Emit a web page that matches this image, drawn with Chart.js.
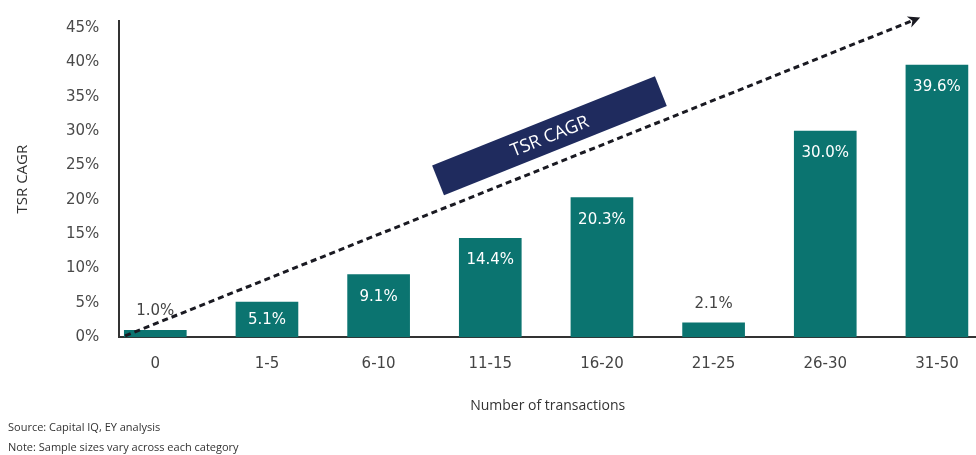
<!DOCTYPE html>
<html>
<head>
<meta charset="utf-8">
<script src="https://cdn.jsdelivr.net/npm/chart.js@4"></script>
<style>
  html, body { margin: 0; padding: 0; background: #fff; }
  #wrap { position: relative; width: 976px; height: 455px; }
  .note { position: absolute; left: 8px; font: 11px "Open Sans", sans-serif; color: #333; }
</style>
</head>
<body>
<div id="wrap">
  <canvas id="tsrChart" width="976" height="455"></canvas>
  <div class="note" style="top:419px;">Source: Capital IQ, EY analysis</div>
  <div class="note" style="top:439px;">Note: Sample sizes vary across each category</div>
</div>
<script>
const categories = ['0', '1-5', '6-10', '11-15', '16-20', '21-25', '26-30', '31-50'];
const tsrCagr = [0.010, 0.051, 0.091, 0.144, 0.203, 0.021, 0.300, 0.396];
const yTicks = [0, 0.05, 0.10, 0.15, 0.20, 0.25, 0.30, 0.35, 0.40, 0.45];

// trend arrow, in axis values (x = category index, y = CAGR)
const arrowFrom = { x: -0.27, y: 0.002 };
const arrowTo = { x: 6.85, y: 0.465 };
const bannerAt = { x: 3.53, y: 0.293 };

const TEAL = '#0b7470';
const NAVY = '#1f2b5e';

const barLabels = {
  id: 'barLabels',
  afterDatasetsDraw(chart) {
    const ctx = chart.ctx;
    const meta = chart.getDatasetMeta(0);
    ctx.save();
    ctx.font = '15px "DejaVu Sans", sans-serif';
    ctx.textAlign = 'center';
    ctx.textBaseline = 'middle';
    meta.data.forEach((bar, i) => {
      const v = tsrCagr[i];
      const txt = (v * 100).toFixed(1) + '%';
      if (v < 0.03) {
        ctx.fillStyle = '#444';
        ctx.fillText(txt, bar.x, bar.y - 19);
      } else {
        ctx.fillStyle = '#fff';
        ctx.fillText(txt, bar.x, bar.y + (v < 0.06 ? 18 : 22));
      }
    });
    ctx.restore();
  }
};

const trendArrow = {
  id: 'trendArrow',
  afterDraw(chart) {
    const { ctx, scales: { x, y } } = chart;
    const x0 = x.getPixelForValue(arrowFrom.x), y0 = y.getPixelForValue(arrowFrom.y);
    const x1 = x.getPixelForValue(arrowTo.x), y1 = y.getPixelForValue(arrowTo.y);
    const ang = Math.atan2(y1 - y0, x1 - x0);

    // banner
    const bx = x.getPixelForValue(bannerAt.x), by = y.getPixelForValue(bannerAt.y);
    ctx.save();
    ctx.translate(bx, by);
    ctx.rotate(ang);
    ctx.fillStyle = NAVY;
    ctx.fillRect(-120, -16, 240, 32);
    ctx.fillStyle = '#fff';
    ctx.font = '18px "Open Sans", sans-serif';
    ctx.textAlign = 'center';
    ctx.textBaseline = 'middle';
    ctx.fillText('TSR CAGR', 0, 1);
    ctx.restore();

    // dashed line
    const headLen = 12;
    const ex = x1 - Math.cos(ang) * headLen * 0.7;
    const ey = y1 - Math.sin(ang) * headLen * 0.7;
    ctx.save();
    ctx.strokeStyle = '#1a1a22';
    ctx.lineWidth = 3;
    ctx.setLineDash([6, 4]);
    ctx.beginPath();
    ctx.moveTo(x0, y0);
    ctx.lineTo(ex, ey);
    ctx.stroke();
    ctx.setLineDash([]);
    ctx.fillStyle = '#1a1a22';
    ctx.translate(x1, y1);
    ctx.rotate(ang);
    ctx.beginPath();
    ctx.moveTo(0, 0);
    ctx.lineTo(-headLen, -6);
    ctx.lineTo(-headLen * 0.7, 0);
    ctx.lineTo(-headLen, 6);
    ctx.closePath();
    ctx.fill();
    ctx.restore();
  }
};

new Chart(document.getElementById('tsrChart'), {
  type: 'bar',
  data: {
    datasets: [{
      data: tsrCagr.map((v, i) => ({ x: i, y: v })),
      backgroundColor: TEAL,
      borderWidth: 0,
      barThickness: 62
    }]
  },
  options: {
    responsive: false,
    animation: false,
    layout: { padding: { top: 16, right: 0, bottom: 37, left: 10 } },
    plugins: { legend: { display: false }, tooltip: { enabled: false } },
    scales: {
      x: {
        type: 'linear',
        offset: false,
        min: -0.322,
        max: 7.35,
        grid: { display: false },
        border: { display: true, color: '#333', width: 2 },
        afterBuildTicks: (axis) => { axis.ticks = categories.map((c, i) => ({ value: i })); },
        ticks: {
          autoSkip: false,
          maxRotation: 0,
          padding: 10,
          color: '#444',
          font: { family: '"DejaVu Sans", sans-serif', size: 15 },
          callback: (v) => categories[v]
        },
        title: {
          display: true,
          text: 'Number of transactions',
          color: '#333',
          padding: { top: 14 },
          font: { family: '"Open Sans", sans-serif', size: 14 }
        }
      },
      y: {
        min: 0,
        max: 0.46,
        grid: { display: false },
        border: { display: true, color: '#333', width: 2 },
        afterBuildTicks: (axis) => { axis.ticks = yTicks.map(v => ({ value: v })); },
        ticks: {
          padding: 12,
          color: '#4a4a4a',
          font: { family: '"DejaVu Sans", sans-serif', size: 15 },
          callback: (v) => Math.round(v * 100) + '%'
        },
        title: {
          display: true,
          text: 'TSR CAGR',
          color: '#333',
          padding: { bottom: 22 },
          font: { family: '"Open Sans", sans-serif', size: 15 }
        }
      }
    }
  },
  plugins: [barLabels, trendArrow]
});
</script>
</body>
</html>
